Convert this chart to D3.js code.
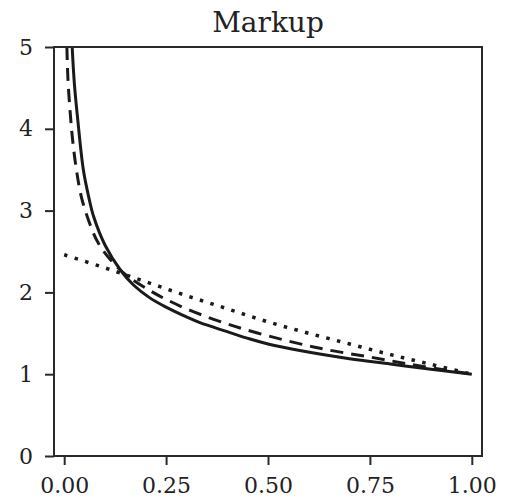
<!DOCTYPE html>
<html>
<head>
<meta charset="utf-8">
<script src="https://cdn.jsdelivr.net/npm/d3@7"></script>
<style>
  body { margin: 0; background: #fff; }
  svg text { font-family: "DejaVu Serif", serif; fill: #222; }
</style>
</head>
<body>
<div id="chart"></div>
<script>
// values
var solidX = [0.0196, 0.025, 0.0335, 0.047, 0.06, 0.072, 0.1, 0.137, 0.17, 0.211, 0.25, 0.3, 0.333, 0.4, 0.456, 0.5, 0.578, 0.7, 0.8, 0.9, 1.0]
var solidY = [5.0, 4.55, 4.1, 3.5, 3.17, 2.93, 2.58, 2.28, 2.09, 1.93, 1.82, 1.70, 1.63, 1.52, 1.43, 1.37, 1.29, 1.19, 1.125, 1.06, 1.0]

var dashX = [0.0066, 0.009, 0.0147, 0.021, 0.03, 0.043, 0.068, 0.084, 0.11, 0.15, 0.218, 0.252, 0.309, 0.415, 0.538, 0.644, 0.75, 0.85, 1.0]
var dashY = [5.0, 4.63, 4.2, 3.85, 3.5, 3.15, 2.77, 2.6, 2.42, 2.22, 2.0, 1.91, 1.78, 1.59, 1.42, 1.30, 1.21, 1.12, 1.0]

var dotX = [0, 0.1, 0.2, 0.3, 0.4, 0.5, 0.6, 0.7, 0.8, 0.9, 1.0]
var dotY = [2.46, 2.30, 2.13, 1.96, 1.80, 1.64, 1.50, 1.37, 1.24, 1.12, 1.0]

var xTicks = [0, 0.25, 0.5, 0.75, 1]
var yTicks = [0, 1, 2, 3, 4, 5]
var title = "Markup"

var width = 505, height = 500
var margin = {top: 47, right: 23, bottom: 44, left: 54}

var svg = d3.select("#chart")
  .append("svg")
  .attr("width", width)
  .attr("height", height)

var xScale = d3.scaleLinear()
  .domain([-0.025, 1.025])
  .range([margin.left, width - margin.right])

var yScale = d3.scaleLinear()
  .domain([0, 5])
  .range([height - margin.bottom, margin.top])

svg.append("clipPath")
  .attr("id", "plot-clip")
  .append("rect")
  .attr("x", margin.left)
  .attr("y", margin.top)
  .attr("width", width - margin.left - margin.right)
  .attr("height", height - margin.top - margin.bottom)

var line = d3.line()
  .x(d => xScale(d[0]))
  .y(d => yScale(d[1]))
  .curve(d3.curveCatmullRom.alpha(0.5))

var series = [
  {pts: d3.zip(solidX, solidY), dash: null, w: 3},
  {pts: d3.zip(dashX, dashY), dash: "13,8", w: 3},
  {pts: d3.zip(dotX, dotY), dash: "3.5,7.5", w: 3.5}
]

svg.append("g")
  .attr("clip-path", "url(#plot-clip)")
  .selectAll("path")
  .data(series)
  .enter()
  .append("path")
  .attr("d", d => line(d.pts))
  .attr("fill", "none")
  .attr("stroke", "#1a1a1a")
  .attr("stroke-width", d => d.w)
  .attr("stroke-dasharray", d => d.dash)

// frame
svg.append("rect")
  .attr("x", margin.left)
  .attr("y", margin.top)
  .attr("width", width - margin.left - margin.right)
  .attr("height", height - margin.top - margin.bottom)
  .attr("fill", "none")
  .attr("stroke", "#2a2a2a")
  .attr("stroke-width", 2)

var xAxis = d3.axisBottom(xScale)
  .tickValues(xTicks)
  .tickSize(9)
  .tickPadding(12)
  .tickFormat(d3.format(".2f"))

var yAxis = d3.axisLeft(yScale)
  .tickValues(yTicks)
  .tickSize(9)
  .tickPadding(12)
  .tickFormat(d3.format("d"))

svg.append("g")
  .attr("transform", `translate(0,${height - margin.bottom})`)
  .call(xAxis)
svg.append("g")
  .attr("transform", `translate(${margin.left},0)`)
  .call(yAxis)

svg.selectAll(".domain").remove()
svg.selectAll(".tick line")
  .attr("stroke", "#2a2a2a")
  .attr("stroke-width", 2)
svg.selectAll(".tick text")
  .attr("font-family", "DejaVu Serif, serif")
  .attr("font-size", 22)
  .attr("fill", "#222")

svg.append("text")
  .attr("x", (margin.left + width - margin.right) / 2)
  .attr("y", 32)
  .attr("text-anchor", "middle")
  .attr("font-size", 28)
  .text(title)
</script>
</body>
</html>
